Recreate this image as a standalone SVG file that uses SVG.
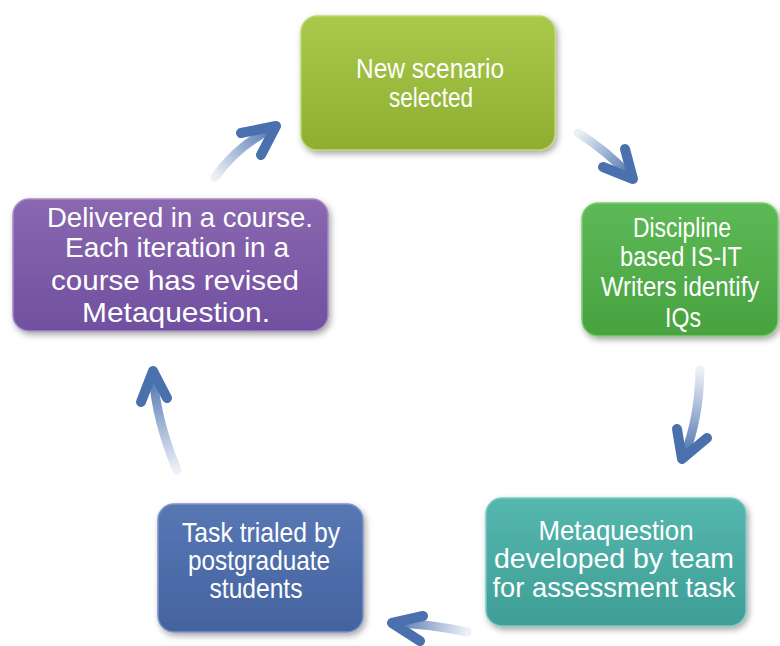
<svg xmlns="http://www.w3.org/2000/svg" width="780" height="646" viewBox="0 0 780 646">
<defs>
<style>
.box{stroke-width:1.5;filter:url(#sh)}
.t{font-family:"Liberation Sans",Arial,sans-serif;font-size:28px;fill:#ffffff;text-anchor:middle}
.shaft{fill:none;stroke-width:9;stroke-linecap:round}
.head{fill:none;stroke:#4A70AE;stroke-width:10;stroke-linecap:round;stroke-linejoin:round}
</style>
<filter id="sh" x="-10%" y="-10%" width="120%" height="130%">
<feDropShadow dx="2" dy="3" stdDeviation="3" flood-color="#000" flood-opacity="0.35"/>
</filter>
<linearGradient id="g1" x1="0" y1="0" x2="0" y2="1"><stop offset="0" stop-color="#A9C94C"/><stop offset="1" stop-color="#8DAE30"/></linearGradient>
<linearGradient id="g2" x1="0" y1="0" x2="0" y2="1"><stop offset="0" stop-color="#5DB956"/><stop offset="1" stop-color="#47A23F"/></linearGradient>
<linearGradient id="g3" x1="0" y1="0" x2="0" y2="1"><stop offset="0" stop-color="#55B7AE"/><stop offset="1" stop-color="#3E9E96"/></linearGradient>
<linearGradient id="g4" x1="0" y1="0" x2="0" y2="1"><stop offset="0" stop-color="#5777B4"/><stop offset="1" stop-color="#44639F"/></linearGradient>
<linearGradient id="g5" x1="0" y1="0" x2="0" y2="1"><stop offset="0" stop-color="#8A68B0"/><stop offset="1" stop-color="#7050A0"/></linearGradient>
<linearGradient id="a1" gradientUnits="userSpaceOnUse" x1="215" y1="177" x2="275" y2="127"><stop offset="0" stop-color="#4A70AE" stop-opacity="0.1"/><stop offset="1" stop-color="#4A70AE"/></linearGradient>
<linearGradient id="a2" gradientUnits="userSpaceOnUse" x1="578" y1="133" x2="632" y2="178"><stop offset="0" stop-color="#4A70AE" stop-opacity="0.1"/><stop offset="1" stop-color="#4A70AE"/></linearGradient>
<linearGradient id="a3" gradientUnits="userSpaceOnUse" x1="700" y1="370" x2="683" y2="458"><stop offset="0" stop-color="#4A70AE" stop-opacity="0.1"/><stop offset="1" stop-color="#4A70AE"/></linearGradient>
<linearGradient id="a4" gradientUnits="userSpaceOnUse" x1="467" y1="632" x2="392" y2="623"><stop offset="0" stop-color="#4A70AE" stop-opacity="0.1"/><stop offset="1" stop-color="#4A70AE"/></linearGradient>
<linearGradient id="a5" gradientUnits="userSpaceOnUse" x1="177" y1="470" x2="153" y2="372"><stop offset="0" stop-color="#4A70AE" stop-opacity="0.1"/><stop offset="1" stop-color="#4A70AE"/></linearGradient>
</defs>
<rect width="780" height="646" fill="#ffffff"/>
<g id="connectors">
<path class="shaft" stroke="url(#a1)" d="M215,177 Q238,145 273,128"/>
<path class="head" d="M241,133 L276,126 L261,155"/>
<path class="shaft" stroke="url(#a2)" d="M578,133 Q606,150 630,176"/>
<path class="head" d="M603,167 L633,179 L625,149"/>
<path class="shaft" stroke="url(#a3)" d="M700,370 Q699,420 684,456"/>
<path class="head" d="M677,429 L682,459 L707,438"/>
<path class="shaft" stroke="url(#a4)" d="M467,632 Q430,624 394,623"/>
<path class="head" d="M423,616 L392,623 L420,641"/>
<path class="shaft" stroke="url(#a5)" d="M177,470 Q156,420 153,374"/>
<path class="head" d="M141,402 L153,371 L167,398"/>
</g>
<g id="n1">
<rect class="box" x="301" y="16" width="254" height="134" rx="16" fill="url(#g1)" stroke="#BCD86C"/>
<text class="t" x="430" y="78" textLength="148" lengthAdjust="spacingAndGlyphs">New scenario</text>
<text class="t" x="431" y="107" textLength="84" lengthAdjust="spacingAndGlyphs">selected</text>
</g>
<g id="n2">
<rect class="box" x="582" y="203" width="196" height="133" rx="16" fill="url(#g2)" stroke="#7CCB74"/>
<text class="t" x="682" y="237" textLength="98" lengthAdjust="spacingAndGlyphs">Discipline</text>
<text class="t" x="681" y="266" textLength="122" lengthAdjust="spacingAndGlyphs">based IS-IT</text>
<text class="t" transform="translate(680,296) scale(0.86,1)" x="0" y="0">Writers identify</text>
<text class="t" x="683" y="327" textLength="36" lengthAdjust="spacingAndGlyphs">IQs</text>
</g>
<g id="n3">
<rect class="box" x="486" y="498" width="260" height="128" rx="16" fill="url(#g3)" stroke="#78CBC3"/>
<text class="t" x="616" y="540" textLength="155" lengthAdjust="spacingAndGlyphs">Metaquestion</text>
<text class="t" x="614" y="568" textLength="240" lengthAdjust="spacingAndGlyphs">developed by team</text>
<text class="t" x="614" y="597" textLength="243" lengthAdjust="spacingAndGlyphs">for assessment task</text>
</g>
<g id="n4">
<rect class="box" x="158" y="504" width="205" height="128" rx="16" fill="url(#g4)" stroke="#7894C8"/>
<text class="t" x="261" y="542" textLength="158" lengthAdjust="spacingAndGlyphs">Task trialed by</text>
<text class="t" x="259" y="570" textLength="142" lengthAdjust="spacingAndGlyphs">postgraduate</text>
<text class="t" x="256" y="598" textLength="93" lengthAdjust="spacingAndGlyphs">students</text>
</g>
<g id="n5">
<rect class="box" x="13" y="199" width="315" height="132" rx="16" fill="url(#g5)" stroke="#A68AC6"/>
<text class="t" x="180" y="227" textLength="266" lengthAdjust="spacingAndGlyphs">Delivered in a course.</text>
<text class="t" x="177" y="257" textLength="224" lengthAdjust="spacingAndGlyphs">Each iteration in a</text>
<text class="t" x="175" y="290" textLength="248" lengthAdjust="spacingAndGlyphs">course has revised</text>
<text class="t" x="176" y="322" textLength="188" lengthAdjust="spacingAndGlyphs">Metaquestion.</text>
</g>
</svg>
